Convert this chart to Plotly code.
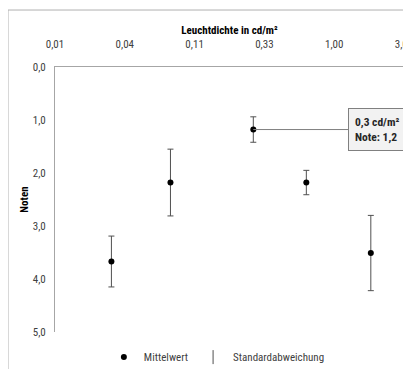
import plotly.graph_objects as go
import math

# Data
luminance = [0.030, 0.076, 0.28, 0.645, 1.78]
grade_mean = [3.67, 2.18, 1.18, 2.18, 3.51]
grade_sd = [0.48, 0.63, 0.24, 0.23, 0.71]
x_tick_vals = [1/81, 1/27, 1/9, 1/3, 1, 3]
x_tick_text = ["0,01", "0,04", "0,11", "0,33", "1,00", "3,00"]
y_tick_vals = [0, 1, 2, 3, 4, 5]
y_tick_text = ["0,0", "1,0", "2,0", "3,0", "4,0", "5,0"]

FONT = "Liberation Sans Narrow, Arial Narrow, Roboto Condensed, Liberation Sans, Arial, sans-serif"
TXT = "#404040"

fig = go.Figure()
fig.add_trace(go.Scatter(
    x=luminance, y=grade_mean, mode="markers", name="Mittelwert",
    marker=dict(color="black", size=6),
    error_y=dict(type="data", array=grade_sd, visible=True,
                 color="#505050", thickness=1, width=3),
))
fig.add_trace(go.Scatter(
    x=[None], y=[None], mode="markers", name="Standardabweichung",
    marker=dict(symbol="line-ns-open", color="#505050", size=10,
                line=dict(width=1, color="#505050")),
))

fig.add_annotation(
    x=math.log10(luminance[2]), y=grade_mean[2], xref="x", yref="y",
    text="<b>0,3 cd/m²<br>Note: 1,2</b>", align="left",
    xanchor="left",
    showarrow=True, arrowhead=0, arrowwidth=1, arrowcolor="#808080",
    ax=95, ay=0, bordercolor="#808080", borderwidth=1, borderpad=6,
    bgcolor="#f2f2f2", font=dict(family=FONT, size=11.5, color="#262626"),
)

# outer chart border
fig.add_shape(type="rect", xref="paper", yref="paper",
              x0=-0.1347, x1=1.2, y0=-0.3, y1=1.215,
              line=dict(color="#b0b0b0", width=1), fillcolor="rgba(0,0,0,0)")

fig.update_layout(
    width=403, height=361,
    margin=dict(l=47, r=7, t=59, b=37, autoexpand=False),
    paper_bgcolor="white", plot_bgcolor="white",
    font=dict(family=FONT, size=11, color=TXT),
    showlegend=True,
    legend=dict(orientation="h", x=0.14, xanchor="left", y=-0.04, yanchor="top",
                itemwidth=30,
                font=dict(family=FONT, size=11, color=TXT)),
)
fig.update_xaxes(
    type="log", side="top", range=[math.log10(1/81), math.log10(3) + 1e-4],
    tickvals=x_tick_vals, ticktext=x_tick_text, ticks="",
    ticklabeloverflow="allow",
    showgrid=False, zeroline=False, showline=True, linecolor="#a6a6a6", linewidth=1,
    ticklabelstandoff=14, automargin=False,
    title=dict(text="<b>Leuchtdichte in cd/m²</b>", font=dict(family=FONT, size=11, color="black"), standoff=0),
)
fig.update_yaxes(
    range=[5, 0], tickvals=y_tick_vals, ticktext=y_tick_text, ticks="",
    showgrid=False, zeroline=False, showline=True, linecolor="#a6a6a6", linewidth=1,
    ticklabelstandoff=6, automargin=False,
    title=dict(text="<b>Noten</b>", font=dict(family=FONT, size=11, color="black"), standoff=1),
)

fig.write_html("out.html")
